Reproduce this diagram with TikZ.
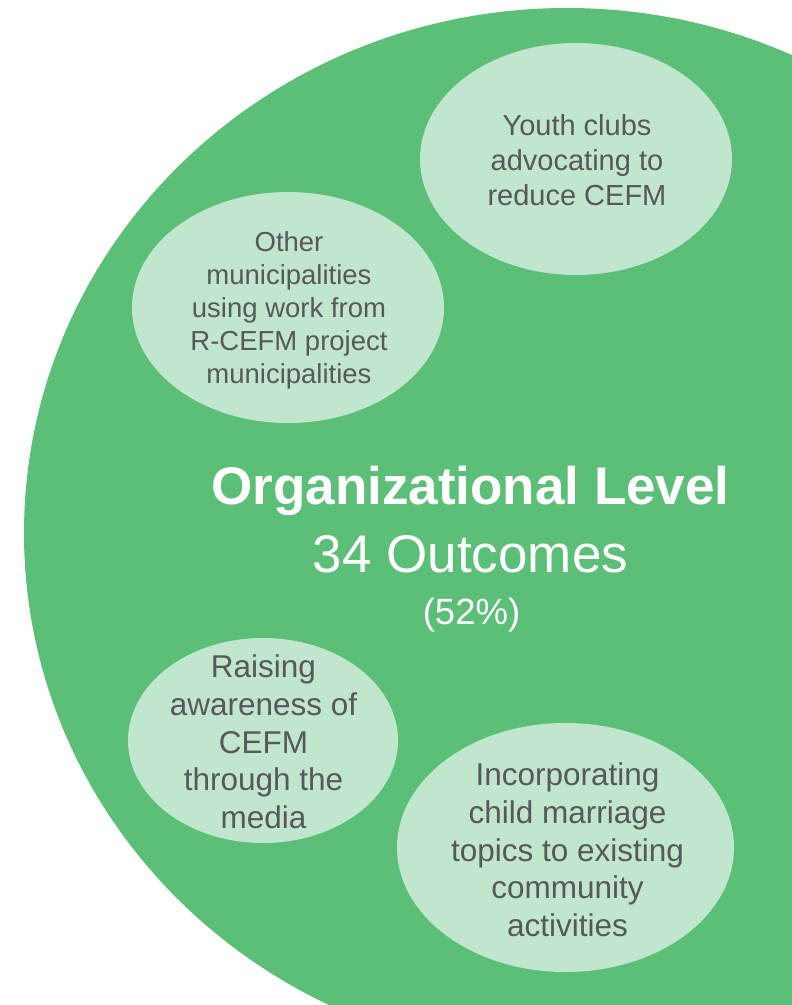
\documentclass[tikz,border=0pt]{standalone}
\usepackage{fontspec}
\setmainfont{Liberation Sans}
\usetikzlibrary{shapes.geometric}
\definecolor{biggreen}{HTML}{5BBF78}
\definecolor{lightgreen}{HTML}{C0E6CD}
\definecolor{txtgrey}{HTML}{58585A}
\begin{document}
\begin{tikzpicture}[x=1pt,y=-1pt,
  bubble/.style={ellipse, fill=lightgreen, draw=none, inner sep=0pt},
  bubbletext/.style={text=txtgrey, align=center, inner sep=0pt, anchor=north},
  titletext/.style={text=white, inner sep=0pt, anchor=base}]
\useasboundingbox (0,0) rectangle (792,1005);
\clip (0,0) rectangle (792,1005);
\node[ellipse, fill=biggreen, draw=none, inner sep=0pt, minimum width=1086pt, minimum height=1050pt] (outer) at (567,533) {};
\node[bubble, minimum width=312pt, minimum height=232pt] (b1) at (576,159) {};
\node[bubble, minimum width=312pt, minimum height=231pt] (b2) at (288,307.5) {};
\node[bubble, minimum width=270pt, minimum height=205pt] (b3) at (263,740.5) {};
\node[bubble, minimum width=337pt, minimum height=249pt] (b4) at (565.5,847.5) {};
\node[bubbletext, font=\fontsize{29}{34.8}\selectfont] (t1) at (577,114.2) {Youth clubs\\advocating to\\reduce CEFM};
\node[bubbletext, font=\fontsize{27.5}{33}\selectfont] (t2) at (289,231.3) {Other\\municipalities\\using work from\\R-CEFM project\\municipalities};
\node[bubbletext, font=\fontsize{31.5}{37.8}\selectfont] (t3) at (263.5,654.5) {Raising\\awareness of\\CEFM\\through the\\media};
\node[bubbletext, font=\fontsize{31.5}{37.8}\selectfont] (t4) at (567.5,762.5) {Incorporating\\child marriage\\topics to existing\\community\\activities};
\node[titletext, font=\fontsize{53}{60}\selectfont\bfseries] (title) at (470.5,504) {Organizational Level};
\node[titletext, font=\fontsize{53}{60}\selectfont] (count) at (470.5,572) {34 Outcomes};
\node[titletext, font=\fontsize{36.5}{42}\selectfont] (pct) at (471.5,624) {(52\%)};
\end{tikzpicture}
\end{document}
